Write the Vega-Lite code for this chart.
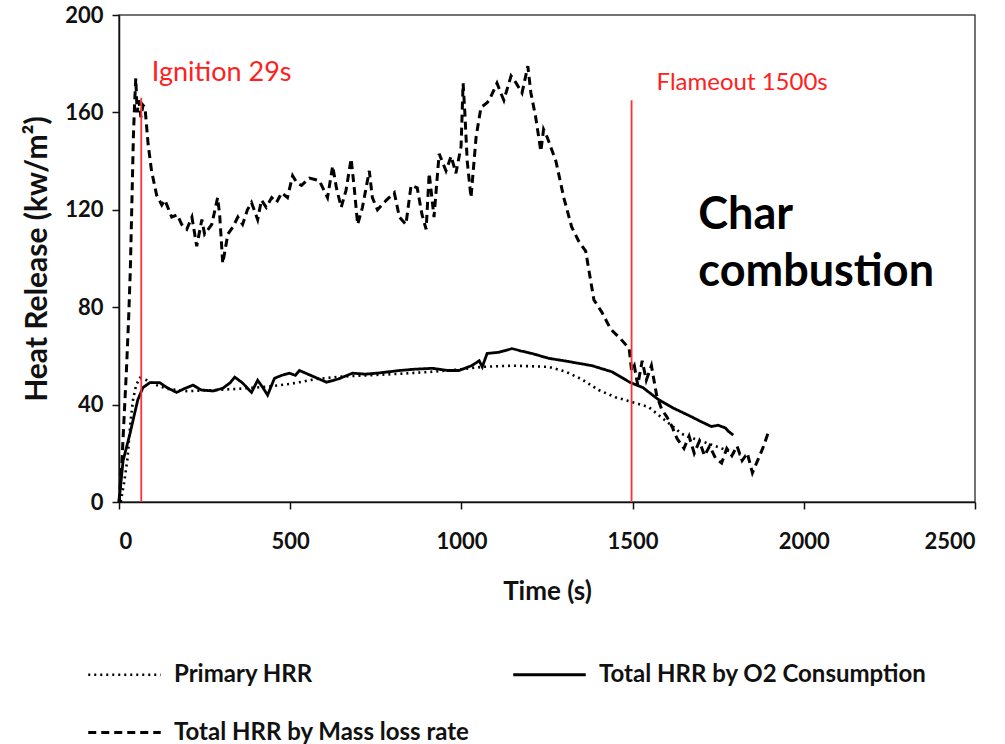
{
  "$schema": "https://vega.github.io/schema/vega-lite/v6.json",
  "width": 856,
  "height": 487,
  "padding": {"left": 119, "top": 15, "right": 30, "bottom": 242},
  "autosize": {"type": "none"},
  "background": "white",
  "config": {
    "view": {"stroke": "#444444", "strokeWidth": 1.5},
    "font": "Lato",
    "axis": {"grid": false, "domainColor": "#111111", "domainWidth": 1.5, "tickColor": "#111111", "tickWidth": 1.5, "labelColor": "#111111", "titleColor": "#111111"}
  },
  "datasets": {
    "hrr": [
      {"series": "Total HRR by Mass loss rate", "t": 0, "v": 0},
      {"series": "Total HRR by Mass loss rate", "t": 8, "v": 15},
      {"series": "Total HRR by Mass loss rate", "t": 15, "v": 35},
      {"series": "Total HRR by Mass loss rate", "t": 22, "v": 55},
      {"series": "Total HRR by Mass loss rate", "t": 28, "v": 75},
      {"series": "Total HRR by Mass loss rate", "t": 33, "v": 95},
      {"series": "Total HRR by Mass loss rate", "t": 38, "v": 125},
      {"series": "Total HRR by Mass loss rate", "t": 42, "v": 150},
      {"series": "Total HRR by Mass loss rate", "t": 46, "v": 165},
      {"series": "Total HRR by Mass loss rate", "t": 49, "v": 174},
      {"series": "Total HRR by Mass loss rate", "t": 53, "v": 160},
      {"series": "Total HRR by Mass loss rate", "t": 58, "v": 165},
      {"series": "Total HRR by Mass loss rate", "t": 64, "v": 158},
      {"series": "Total HRR by Mass loss rate", "t": 70, "v": 163},
      {"series": "Total HRR by Mass loss rate", "t": 76, "v": 162},
      {"series": "Total HRR by Mass loss rate", "t": 85, "v": 147},
      {"series": "Total HRR by Mass loss rate", "t": 95, "v": 136},
      {"series": "Total HRR by Mass loss rate", "t": 110, "v": 126},
      {"series": "Total HRR by Mass loss rate", "t": 125, "v": 122},
      {"series": "Total HRR by Mass loss rate", "t": 134, "v": 124},
      {"series": "Total HRR by Mass loss rate", "t": 154, "v": 117},
      {"series": "Total HRR by Mass loss rate", "t": 170, "v": 118},
      {"series": "Total HRR by Mass loss rate", "t": 183, "v": 114},
      {"series": "Total HRR by Mass loss rate", "t": 198, "v": 112},
      {"series": "Total HRR by Mass loss rate", "t": 213, "v": 117},
      {"series": "Total HRR by Mass loss rate", "t": 227, "v": 105},
      {"series": "Total HRR by Mass loss rate", "t": 242, "v": 116},
      {"series": "Total HRR by Mass loss rate", "t": 250, "v": 110},
      {"series": "Total HRR by Mass loss rate", "t": 271, "v": 114},
      {"series": "Total HRR by Mass loss rate", "t": 288, "v": 125},
      {"series": "Total HRR by Mass loss rate", "t": 294, "v": 118},
      {"series": "Total HRR by Mass loss rate", "t": 303, "v": 98},
      {"series": "Total HRR by Mass loss rate", "t": 318, "v": 110},
      {"series": "Total HRR by Mass loss rate", "t": 333, "v": 113},
      {"series": "Total HRR by Mass loss rate", "t": 347, "v": 117},
      {"series": "Total HRR by Mass loss rate", "t": 361, "v": 114},
      {"series": "Total HRR by Mass loss rate", "t": 375, "v": 120},
      {"series": "Total HRR by Mass loss rate", "t": 387, "v": 123},
      {"series": "Total HRR by Mass loss rate", "t": 405, "v": 116},
      {"series": "Total HRR by Mass loss rate", "t": 416, "v": 124},
      {"series": "Total HRR by Mass loss rate", "t": 430, "v": 121},
      {"series": "Total HRR by Mass loss rate", "t": 446, "v": 125},
      {"series": "Total HRR by Mass loss rate", "t": 460, "v": 123},
      {"series": "Total HRR by Mass loss rate", "t": 475, "v": 127},
      {"series": "Total HRR by Mass loss rate", "t": 492, "v": 125},
      {"series": "Total HRR by Mass loss rate", "t": 507, "v": 134},
      {"series": "Total HRR by Mass loss rate", "t": 520, "v": 131},
      {"series": "Total HRR by Mass loss rate", "t": 533, "v": 130},
      {"series": "Total HRR by Mass loss rate", "t": 556, "v": 133},
      {"series": "Total HRR by Mass loss rate", "t": 585, "v": 132},
      {"series": "Total HRR by Mass loss rate", "t": 609, "v": 125},
      {"series": "Total HRR by Mass loss rate", "t": 624, "v": 138},
      {"series": "Total HRR by Mass loss rate", "t": 635, "v": 129},
      {"series": "Total HRR by Mass loss rate", "t": 649, "v": 121},
      {"series": "Total HRR by Mass loss rate", "t": 663, "v": 128},
      {"series": "Total HRR by Mass loss rate", "t": 678, "v": 141},
      {"series": "Total HRR by Mass loss rate", "t": 687, "v": 129},
      {"series": "Total HRR by Mass loss rate", "t": 697, "v": 114},
      {"series": "Total HRR by Mass loss rate", "t": 711, "v": 121},
      {"series": "Total HRR by Mass loss rate", "t": 731, "v": 136},
      {"series": "Total HRR by Mass loss rate", "t": 740, "v": 125},
      {"series": "Total HRR by Mass loss rate", "t": 755, "v": 120},
      {"series": "Total HRR by Mass loss rate", "t": 781, "v": 124},
      {"series": "Total HRR by Mass loss rate", "t": 804, "v": 127},
      {"series": "Total HRR by Mass loss rate", "t": 819, "v": 117},
      {"series": "Total HRR by Mass loss rate", "t": 838, "v": 114},
      {"series": "Total HRR by Mass loss rate", "t": 853, "v": 130},
      {"series": "Total HRR by Mass loss rate", "t": 871, "v": 129},
      {"series": "Total HRR by Mass loss rate", "t": 885, "v": 118},
      {"series": "Total HRR by Mass loss rate", "t": 897, "v": 112},
      {"series": "Total HRR by Mass loss rate", "t": 906, "v": 135},
      {"series": "Total HRR by Mass loss rate", "t": 920, "v": 117},
      {"series": "Total HRR by Mass loss rate", "t": 935, "v": 143},
      {"series": "Total HRR by Mass loss rate", "t": 955, "v": 136},
      {"series": "Total HRR by Mass loss rate", "t": 970, "v": 142},
      {"series": "Total HRR by Mass loss rate", "t": 984, "v": 135},
      {"series": "Total HRR by Mass loss rate", "t": 999, "v": 146},
      {"series": "Total HRR by Mass loss rate", "t": 1005, "v": 172},
      {"series": "Total HRR by Mass loss rate", "t": 1010, "v": 160},
      {"series": "Total HRR by Mass loss rate", "t": 1017, "v": 140},
      {"series": "Total HRR by Mass loss rate", "t": 1028, "v": 125},
      {"series": "Total HRR by Mass loss rate", "t": 1043, "v": 150},
      {"series": "Total HRR by Mass loss rate", "t": 1057, "v": 162},
      {"series": "Total HRR by Mass loss rate", "t": 1075, "v": 164},
      {"series": "Total HRR by Mass loss rate", "t": 1081, "v": 165},
      {"series": "Total HRR by Mass loss rate", "t": 1104, "v": 172},
      {"series": "Total HRR by Mass loss rate", "t": 1115, "v": 168},
      {"series": "Total HRR by Mass loss rate", "t": 1124, "v": 165},
      {"series": "Total HRR by Mass loss rate", "t": 1145, "v": 175},
      {"series": "Total HRR by Mass loss rate", "t": 1160, "v": 172},
      {"series": "Total HRR by Mass loss rate", "t": 1177, "v": 168},
      {"series": "Total HRR by Mass loss rate", "t": 1194, "v": 179},
      {"series": "Total HRR by Mass loss rate", "t": 1203, "v": 168},
      {"series": "Total HRR by Mass loss rate", "t": 1217, "v": 158},
      {"series": "Total HRR by Mass loss rate", "t": 1232, "v": 144},
      {"series": "Total HRR by Mass loss rate", "t": 1240, "v": 153},
      {"series": "Total HRR by Mass loss rate", "t": 1250, "v": 150},
      {"series": "Total HRR by Mass loss rate", "t": 1276, "v": 140},
      {"series": "Total HRR by Mass loss rate", "t": 1299, "v": 125},
      {"series": "Total HRR by Mass loss rate", "t": 1322, "v": 113},
      {"series": "Total HRR by Mass loss rate", "t": 1343, "v": 107},
      {"series": "Total HRR by Mass loss rate", "t": 1363, "v": 103},
      {"series": "Total HRR by Mass loss rate", "t": 1387, "v": 83},
      {"series": "Total HRR by Mass loss rate", "t": 1410, "v": 78},
      {"series": "Total HRR by Mass loss rate", "t": 1436, "v": 71},
      {"series": "Total HRR by Mass loss rate", "t": 1465, "v": 67},
      {"series": "Total HRR by Mass loss rate", "t": 1490, "v": 63},
      {"series": "Total HRR by Mass loss rate", "t": 1497, "v": 54},
      {"series": "Total HRR by Mass loss rate", "t": 1505, "v": 56},
      {"series": "Total HRR by Mass loss rate", "t": 1515, "v": 48},
      {"series": "Total HRR by Mass loss rate", "t": 1528, "v": 58},
      {"series": "Total HRR by Mass loss rate", "t": 1540, "v": 50},
      {"series": "Total HRR by Mass loss rate", "t": 1555, "v": 56},
      {"series": "Total HRR by Mass loss rate", "t": 1570, "v": 44},
      {"series": "Total HRR by Mass loss rate", "t": 1585, "v": 38},
      {"series": "Total HRR by Mass loss rate", "t": 1600, "v": 35},
      {"series": "Total HRR by Mass loss rate", "t": 1615, "v": 31},
      {"series": "Total HRR by Mass loss rate", "t": 1630, "v": 26},
      {"series": "Total HRR by Mass loss rate", "t": 1650, "v": 22},
      {"series": "Total HRR by Mass loss rate", "t": 1665, "v": 27},
      {"series": "Total HRR by Mass loss rate", "t": 1680, "v": 20},
      {"series": "Total HRR by Mass loss rate", "t": 1695, "v": 25},
      {"series": "Total HRR by Mass loss rate", "t": 1710, "v": 19},
      {"series": "Total HRR by Mass loss rate", "t": 1725, "v": 23},
      {"series": "Total HRR by Mass loss rate", "t": 1742, "v": 18},
      {"series": "Total HRR by Mass loss rate", "t": 1760, "v": 16},
      {"series": "Total HRR by Mass loss rate", "t": 1775, "v": 22},
      {"series": "Total HRR by Mass loss rate", "t": 1790, "v": 19},
      {"series": "Total HRR by Mass loss rate", "t": 1805, "v": 23},
      {"series": "Total HRR by Mass loss rate", "t": 1820, "v": 17},
      {"series": "Total HRR by Mass loss rate", "t": 1835, "v": 20},
      {"series": "Total HRR by Mass loss rate", "t": 1850, "v": 12},
      {"series": "Total HRR by Mass loss rate", "t": 1865, "v": 17},
      {"series": "Total HRR by Mass loss rate", "t": 1880, "v": 22},
      {"series": "Total HRR by Mass loss rate", "t": 1895, "v": 28},
      {"series": "Primary HRR", "t": 5, "v": 0},
      {"series": "Primary HRR", "t": 15, "v": 8},
      {"series": "Primary HRR", "t": 25, "v": 18},
      {"series": "Primary HRR", "t": 33, "v": 32},
      {"series": "Primary HRR", "t": 41, "v": 42},
      {"series": "Primary HRR", "t": 50, "v": 48},
      {"series": "Primary HRR", "t": 61, "v": 51},
      {"series": "Primary HRR", "t": 82, "v": 50},
      {"series": "Primary HRR", "t": 110, "v": 48},
      {"series": "Primary HRR", "t": 140, "v": 46.5},
      {"series": "Primary HRR", "t": 200, "v": 45.5},
      {"series": "Primary HRR", "t": 285, "v": 46},
      {"series": "Primary HRR", "t": 350, "v": 46.5},
      {"series": "Primary HRR", "t": 430, "v": 47.3},
      {"series": "Primary HRR", "t": 500, "v": 48.5},
      {"series": "Primary HRR", "t": 576, "v": 50.5},
      {"series": "Primary HRR", "t": 650, "v": 51.5},
      {"series": "Primary HRR", "t": 722, "v": 52},
      {"series": "Primary HRR", "t": 800, "v": 52.5},
      {"series": "Primary HRR", "t": 916, "v": 53.5},
      {"series": "Primary HRR", "t": 1000, "v": 54.5},
      {"series": "Primary HRR", "t": 1061, "v": 55.5},
      {"series": "Primary HRR", "t": 1150, "v": 56},
      {"series": "Primary HRR", "t": 1255, "v": 55.5},
      {"series": "Primary HRR", "t": 1305, "v": 53.5},
      {"series": "Primary HRR", "t": 1350, "v": 50.5},
      {"series": "Primary HRR", "t": 1401, "v": 46},
      {"series": "Primary HRR", "t": 1450, "v": 43},
      {"series": "Primary HRR", "t": 1488, "v": 41.5},
      {"series": "Primary HRR", "t": 1500, "v": 41},
      {"series": "Primary HRR", "t": 1547, "v": 39},
      {"series": "Primary HRR", "t": 1600, "v": 33},
      {"series": "Primary HRR", "t": 1643, "v": 28},
      {"series": "Primary HRR", "t": 1680, "v": 26},
      {"series": "Primary HRR", "t": 1721, "v": 24},
      {"series": "Primary HRR", "t": 1760, "v": 22},
      {"series": "Primary HRR", "t": 1800, "v": 20},
      {"series": "Primary HRR", "t": 1830, "v": 19},
      {"series": "Total HRR by O2 Consumption", "t": 0, "v": 0},
      {"series": "Total HRR by O2 Consumption", "t": 12, "v": 17},
      {"series": "Total HRR by O2 Consumption", "t": 32, "v": 28},
      {"series": "Total HRR by O2 Consumption", "t": 45, "v": 36},
      {"series": "Total HRR by O2 Consumption", "t": 55, "v": 42},
      {"series": "Total HRR by O2 Consumption", "t": 70, "v": 47},
      {"series": "Total HRR by O2 Consumption", "t": 90, "v": 49},
      {"series": "Total HRR by O2 Consumption", "t": 119, "v": 49},
      {"series": "Total HRR by O2 Consumption", "t": 140, "v": 47},
      {"series": "Total HRR by O2 Consumption", "t": 168, "v": 45},
      {"series": "Total HRR by O2 Consumption", "t": 190, "v": 46.5},
      {"series": "Total HRR by O2 Consumption", "t": 216, "v": 48},
      {"series": "Total HRR by O2 Consumption", "t": 240, "v": 46},
      {"series": "Total HRR by O2 Consumption", "t": 274, "v": 45.6},
      {"series": "Total HRR by O2 Consumption", "t": 303, "v": 46.7},
      {"series": "Total HRR by O2 Consumption", "t": 325, "v": 49},
      {"series": "Total HRR by O2 Consumption", "t": 338, "v": 51.3},
      {"series": "Total HRR by O2 Consumption", "t": 360, "v": 49},
      {"series": "Total HRR by O2 Consumption", "t": 387, "v": 45},
      {"series": "Total HRR by O2 Consumption", "t": 405, "v": 50},
      {"series": "Total HRR by O2 Consumption", "t": 420, "v": 47},
      {"series": "Total HRR by O2 Consumption", "t": 434, "v": 43.9},
      {"series": "Total HRR by O2 Consumption", "t": 454, "v": 50.8},
      {"series": "Total HRR by O2 Consumption", "t": 475, "v": 52},
      {"series": "Total HRR by O2 Consumption", "t": 498, "v": 52.9},
      {"series": "Total HRR by O2 Consumption", "t": 515, "v": 52},
      {"series": "Total HRR by O2 Consumption", "t": 527, "v": 54},
      {"series": "Total HRR by O2 Consumption", "t": 560, "v": 52},
      {"series": "Total HRR by O2 Consumption", "t": 606, "v": 49.2},
      {"series": "Total HRR by O2 Consumption", "t": 640, "v": 50.5},
      {"series": "Total HRR by O2 Consumption", "t": 682, "v": 52.9},
      {"series": "Total HRR by O2 Consumption", "t": 720, "v": 52.5},
      {"series": "Total HRR by O2 Consumption", "t": 760, "v": 53},
      {"series": "Total HRR by O2 Consumption", "t": 819, "v": 54},
      {"series": "Total HRR by O2 Consumption", "t": 860, "v": 54.5},
      {"series": "Total HRR by O2 Consumption", "t": 916, "v": 54.9},
      {"series": "Total HRR by O2 Consumption", "t": 960, "v": 54},
      {"series": "Total HRR by O2 Consumption", "t": 993, "v": 54},
      {"series": "Total HRR by O2 Consumption", "t": 1030, "v": 56},
      {"series": "Total HRR by O2 Consumption", "t": 1052, "v": 58},
      {"series": "Total HRR by O2 Consumption", "t": 1061, "v": 55.5},
      {"series": "Total HRR by O2 Consumption", "t": 1075, "v": 61},
      {"series": "Total HRR by O2 Consumption", "t": 1110, "v": 61.5},
      {"series": "Total HRR by O2 Consumption", "t": 1148, "v": 63},
      {"series": "Total HRR by O2 Consumption", "t": 1175, "v": 62},
      {"series": "Total HRR by O2 Consumption", "t": 1206, "v": 61},
      {"series": "Total HRR by O2 Consumption", "t": 1255, "v": 59},
      {"series": "Total HRR by O2 Consumption", "t": 1300, "v": 58},
      {"series": "Total HRR by O2 Consumption", "t": 1381, "v": 56},
      {"series": "Total HRR by O2 Consumption", "t": 1439, "v": 53.5},
      {"series": "Total HRR by O2 Consumption", "t": 1494, "v": 49},
      {"series": "Total HRR by O2 Consumption", "t": 1530, "v": 47},
      {"series": "Total HRR by O2 Consumption", "t": 1576, "v": 42},
      {"series": "Total HRR by O2 Consumption", "t": 1620, "v": 38.5},
      {"series": "Total HRR by O2 Consumption", "t": 1672, "v": 35},
      {"series": "Total HRR by O2 Consumption", "t": 1700, "v": 33},
      {"series": "Total HRR by O2 Consumption", "t": 1730, "v": 31},
      {"series": "Total HRR by O2 Consumption", "t": 1750, "v": 31.5},
      {"series": "Total HRR by O2 Consumption", "t": 1771, "v": 30.4},
      {"series": "Total HRR by O2 Consumption", "t": 1780, "v": 29},
      {"series": "Total HRR by O2 Consumption", "t": 1794, "v": 27.5}
    ],
    "events": [
      {"t": 65, "y0": 0, "y1": 166, "label": "Ignition 29s", "lt": 96, "lv": 176},
      {"t": 1497, "y0": 0, "y1": 165, "label": "Flameout 1500s", "lt": 1570, "lv": 172}
    ],
    "note": [
      {"t": 1692, "v": 117.7, "text": ["Char", "combustion"]}
    ]
  },
  "layer": [
    {
      "data": {"name": "hrr"},
      "mark": {"type": "line", "color": "#000000", "strokeCap": "butt"},
      "encoding": {
        "x": {
          "field": "t", "type": "quantitative",
          "scale": {"domain": [0, 2500], "nice": false},
          "axis": {
            "title": "Time (s)", "values": [0, 500, 1000, 1500, 2000, 2500], "format": "d",
            "labelFont": "Lato", "labelFontWeight": "bold", "labelFontSize": 22, "labelPadding": 22,
            "tickSize": 7, "titleFont": "Lato", "titleFontWeight": "bold", "titleFontSize": 26, "titlePadding": 26
          }
        },
        "y": {
          "field": "v", "type": "quantitative",
          "scale": {"domain": [0, 200], "nice": false},
          "axis": {
            "title": "Heat Release (kw/m²)", "values": [0, 40, 80, 120, 160, 200],
            "labelFont": "Lato", "labelFontWeight": "bold", "labelFontSize": 22, "labelPadding": 9,
            "tickSize": 7, "titleFont": "Lato", "titleFontWeight": "bold", "titleFontSize": 30, "titlePadding": 12
          }
        },
        "strokeDash": {
          "field": "series", "type": "nominal",
          "scale": {
            "domain": ["Primary HRR", "Total HRR by O2 Consumption", "Total HRR by Mass loss rate"],
            "range": [[2, 4], [1, 0], [8, 5]]
          },
          "legend": {
            "title": null, "orient": "none", "legendX": -25, "legendY": 629,
            "direction": "horizontal", "columns": 2, "columnPadding": 37, "rowPadding": 15,
            "symbolType": "M-1.25,0H1.25", "symbolSize": 3364, "symbolStrokeColor": "#000000",
            "labelFont": "Lato", "labelFontWeight": "bold", "labelFontSize": 24, "labelColor": "#111111",
            "labelOffset": 19, "labelLimit": 400
          }
        },
        "strokeWidth": {
          "field": "series", "type": "nominal",
          "scale": {
            "domain": ["Primary HRR", "Total HRR by O2 Consumption", "Total HRR by Mass loss rate"],
            "range": [2.6, 3, 3.2]
          },
          "legend": {
            "title": null, "orient": "none", "legendX": -25, "legendY": 629,
            "direction": "horizontal", "columns": 2, "columnPadding": 37, "rowPadding": 15,
            "symbolType": "M-1.25,0H1.25", "symbolSize": 3364, "symbolStrokeColor": "#000000",
            "labelFont": "Lato", "labelFontWeight": "bold", "labelFontSize": 24, "labelColor": "#111111",
            "labelOffset": 19, "labelLimit": 400
          }
        },
        "detail": {"field": "series"},
        "order": {"field": "t", "type": "quantitative"}
      }
    },
    {
      "data": {"name": "events"},
      "mark": {"type": "rule", "color": "#ff3030", "strokeWidth": 1.8},
      "encoding": {
        "x": {"field": "t", "type": "quantitative"},
        "y": {"field": "y0", "type": "quantitative"},
        "y2": {"field": "y1"}
      }
    },
    {
      "data": {"name": "events"},
      "transform": [{"filter": "datum.label === 'Ignition 29s'"}],
      "mark": {"type": "text", "color": "#ff2020", "font": "Lato", "fontSize": 27, "align": "left", "baseline": "middle"},
      "encoding": {
        "x": {"field": "lt", "type": "quantitative"},
        "y": {"field": "lv", "type": "quantitative"},
        "text": {"field": "label"}
      }
    },
    {
      "data": {"name": "events"},
      "transform": [{"filter": "datum.label === 'Flameout 1500s'"}],
      "mark": {"type": "text", "color": "#ff2020", "font": "Lato", "fontSize": 24, "align": "left", "baseline": "middle"},
      "encoding": {
        "x": {"field": "lt", "type": "quantitative"},
        "y": {"field": "lv", "type": "quantitative"},
        "text": {"field": "label"}
      }
    },
    {
      "data": {"name": "note"},
      "mark": {"type": "text", "color": "#000000", "font": "Lato", "fontWeight": "bold", "fontSize": 45, "align": "left", "baseline": "middle", "lineHeight": 57},
      "encoding": {
        "x": {"field": "t", "type": "quantitative"},
        "y": {"field": "v", "type": "quantitative"},
        "text": {"field": "text"}
      }
    }
  ]
}
